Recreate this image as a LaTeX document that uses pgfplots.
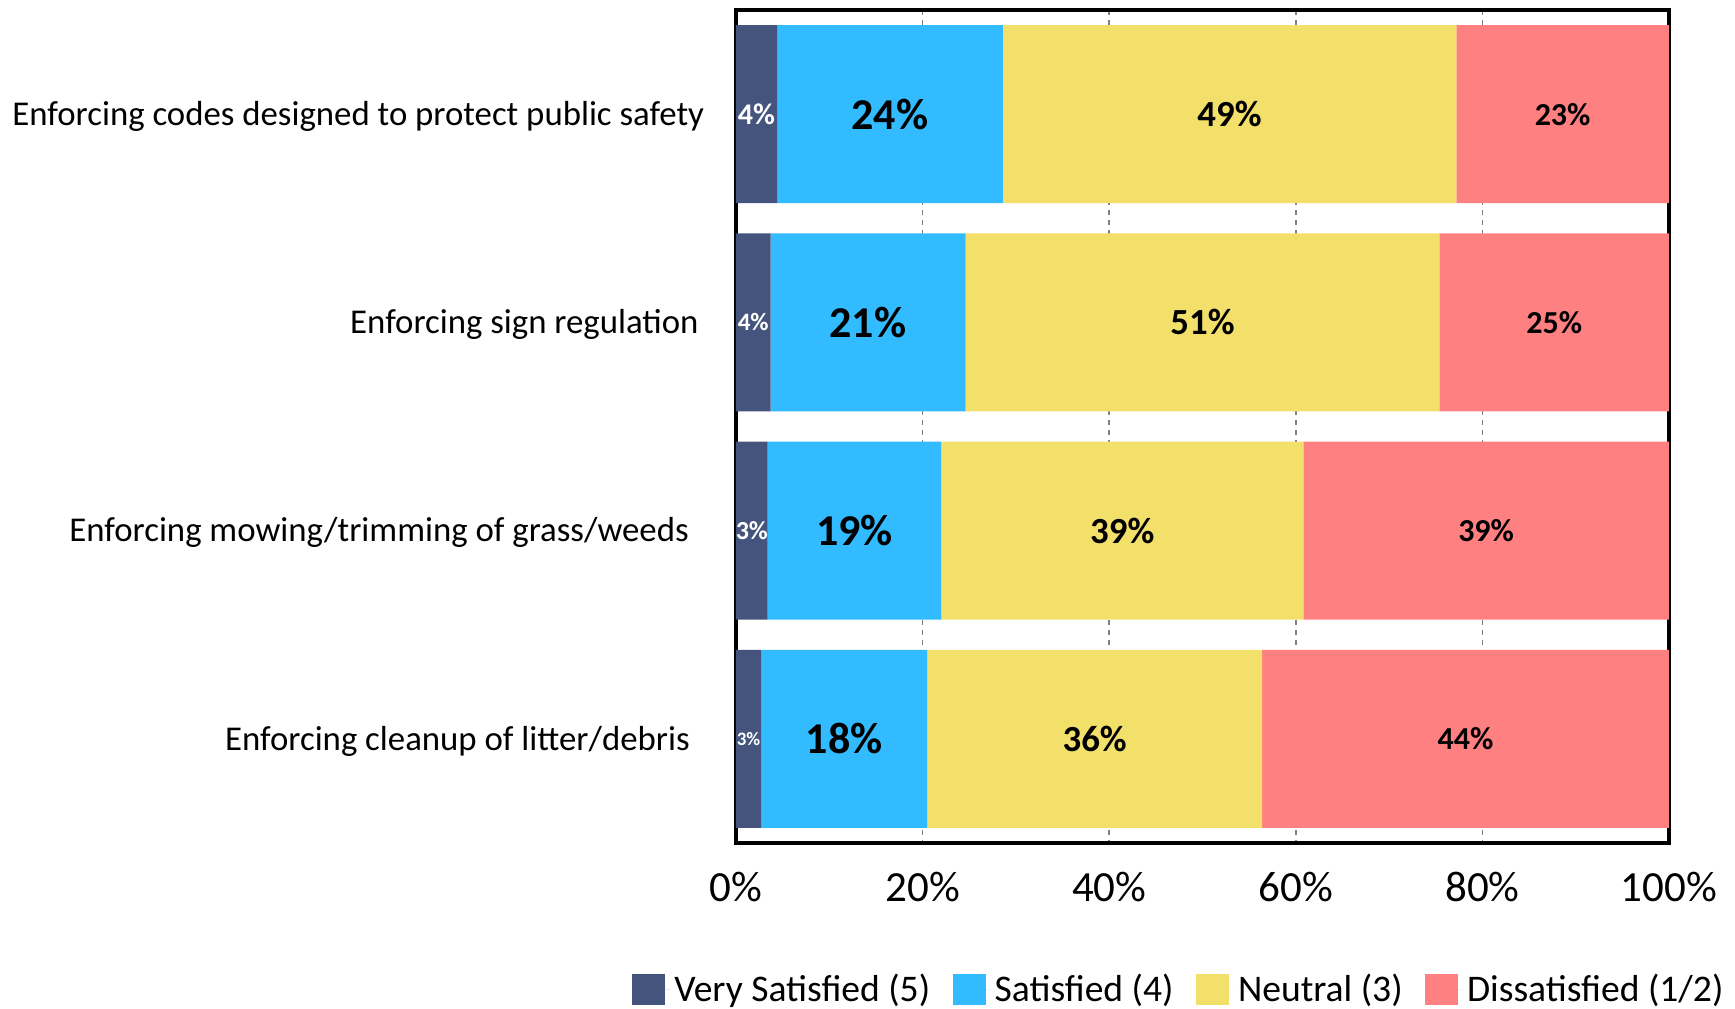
\documentclass[border=0pt]{standalone}
\usepackage{pgfplots}
\pgfplotsset{compat=1.18}
\usepackage{fontspec}
\setmainfont{Carlito}
\definecolor{cvs}{HTML}{44547C}
\definecolor{cs}{HTML}{33BBFF}
\definecolor{cn}{HTML}{F2E06B}
\definecolor{cd}{HTML}{FF8080}
\newcommand\vsA{\fontsize{15}{15}\selectfont 4}
\newcommand\vsB{\fontsize{12.5}{12.5}\selectfont 4}
\newcommand\vsC{\fontsize{13}{13}\selectfont 3}
\newcommand\vsD{\fontsize{9.5}{9.5}\selectfont 3}
\pgfplotsset{
  sqlegend/.style={legend image code/.code={\fill[##1] (0pt,-7.7pt) rectangle (16.5pt,7.7pt); \path (0pt,0pt) -- (18.9pt,0pt);}},
  samebox/.style={at={(0,0)}, anchor=south west, scale only axis, width=466.5pt, height=416.5pt,
    xmin=0, xmax=100, ymin=-0.5, ymax=3.5, y dir=reverse},
}

\begin{document}
\begin{tikzpicture}
\useasboundingbox (-368pt,-82.5pt) rectangle ++(867.5pt,504pt);
\begin{axis}[
  samebox,
  xbar stacked, bar width=0.855,
  ytick={0,1,2,3},
  yticklabels={Enforcing codes designed to protect public safety, Enforcing sign regulation\kern2.8pt, Enforcing mowing/trimming of grass/weeds\kern7.7pt, Enforcing cleanup of litter/debris\kern7.2pt},
  yticklabel style={font=\fontsize{17.4}{20}\selectfont, xshift=-12.4pt, yshift=-1.1pt},
  xtick={0,20,40,60,80,100},
  xticklabels={0\%,20\%,40\%,60\%,80\%,100\%},
  xticklabel style={font=\fontsize{21.5}{24}\selectfont, yshift=-10.8pt},
  major tick length=0pt,
  xmajorgrids, grid style={gray, dash pattern=on 2.5pt off 2.5pt, line width=0.8pt},
  axis line style={black, line width=1.6pt},
  sqlegend,
  legend style={draw=none, fill=none, legend columns=4, at={(1.0696,-0.176)}, anchor=east,
    font=\fontsize{18.8}{22}\selectfont,
    /tikz/every even column/.append style={column sep=9.3pt},
    nodes={inner sep=2pt}},
]
\addplot[draw=none, fill=cvs] coordinates {(4.4,0) (3.7,1) (3.4,2) (2.7,3)};
\addplot[draw=none, fill=cs] coordinates {(24.2,0) (20.9,1) (18.6,2) (17.8,3)};
\addplot[draw=none, fill=cn] coordinates {(48.6,0) (50.8,1) (38.8,2) (35.9,3)};
\addplot[draw=none, fill=cd] coordinates {(22.8,0) (24.6,1) (39.2,2) (43.6,3)};
\legend{Very Satisfied (5), Satisfied (4), Neutral (3), Dissatisfied (1/2)}
\end{axis}
\begin{axis}[
  samebox, hide axis, clip=false,
  point meta=explicit symbolic,
  nodes near coords={\pgfplotspointmeta\%},
  every node near coord/.append style={anchor=center},
]
\addplot[draw=none, mark=none, nodes near coords style={text=white, font=\bfseries}]
  coordinates {(2.2,0) [\vsA] (1.85,1) [\vsB] (1.7,2) [\vsC] (1.35,3) [\vsD]};
\addplot[draw=none, mark=none, nodes near coords style={font=\fontsize{22}{22}\selectfont\bfseries}]
  coordinates {(16.5,0) [24] (14.15,1) [21] (12.7,2) [19] (11.6,3) [18]};
\addplot[draw=none, mark=none, nodes near coords style={font=\fontsize{18.4}{18.4}\selectfont\bfseries}]
  coordinates {(52.9,0) [49] (50.0,1) [51] (41.4,2) [39] (38.45,3) [36]};
\addplot[draw=none, mark=none, nodes near coords style={font=\fontsize{16}{16}\selectfont\bfseries}]
  coordinates {(88.6,0) [23] (87.7,1) [25] (80.4,2) [39] (78.2,3) [44]};
\end{axis}
\end{tikzpicture}
\end{document}
